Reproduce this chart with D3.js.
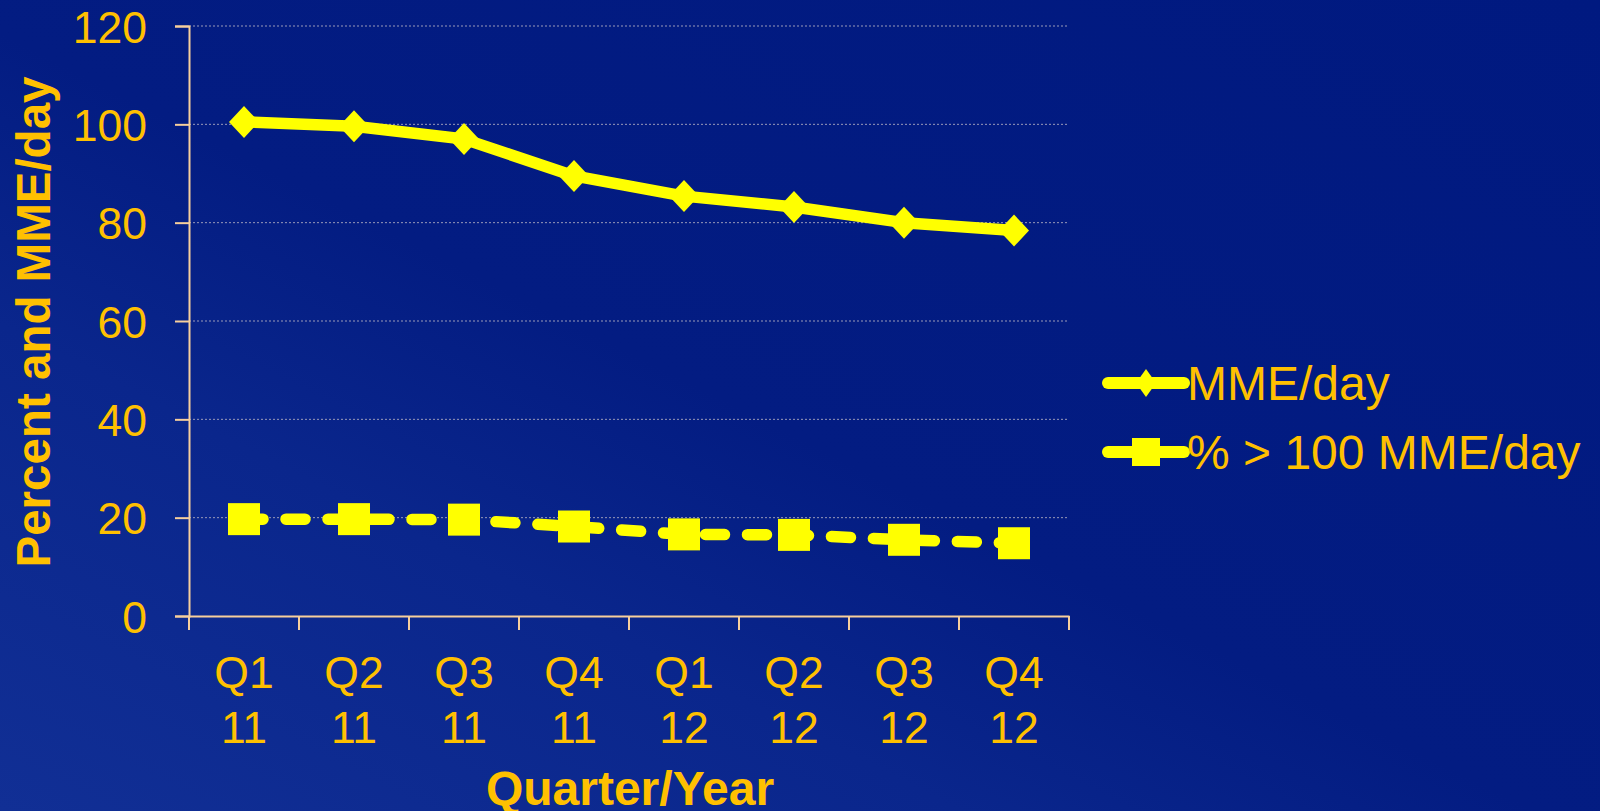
<!DOCTYPE html>
<html>
<head>
<meta charset="utf-8">
<script src="https://cdn.jsdelivr.net/npm/d3@7"></script>
<style>
  html, body { margin: 0; padding: 0; background: #001880; overflow: hidden; }
  svg { display: block; font-family: "Liberation Sans", Arial, sans-serif; }
</style>
</head>
<body>
<div id="chart"></div>
<script>
// Data
const quarters = ["Q1", "Q2", "Q3", "Q4", "Q1", "Q2", "Q3", "Q4"];
const years = ["11", "11", "11", "11", "12", "12", "12", "12"];
const categories = quarters.map((q, i) => q + " " + years[i]);
const mmePerDay = [100.5, 99.6, 97.0, 89.5, 85.4, 83.2, 80.0, 78.4];
const pctOver100 = [19.7, 19.7, 19.6, 18.2, 16.6, 16.5, 15.5, 14.8];
const yTicks = [0, 20, 40, 60, 80, 100, 120];
const seriesNames = ["MME/day", "% > 100 MME/day"];

const width = 1600;
const height = 811;
const marginTop = 26;
const marginLeft = 189;
const plotRight = 1069;
const plotBottom = 616;

const textColor = "#ffc000";
const lineColor = "#ffff00";
const axisColor = "#f7cf9c";

const x = d3.scaleBand()
    .domain(categories)
    .range([marginLeft, plotRight]);

const y = d3.scaleLinear()
    .domain([0, 120])
    .range([plotBottom, marginTop]);

const cx = c => x(c) + x.bandwidth() / 2;

const svg = d3.create("svg")
    .attr("width", width)
    .attr("height", height);

// background
const defs = svg.append("defs");
const grad = defs.append("linearGradient")
    .attr("id", "bg")
    .attr("x1", "0").attr("y1", "1")
    .attr("x2", "1").attr("y2", "0");
grad.append("stop").attr("offset", "0%").attr("stop-color", "#112f95");
grad.append("stop").attr("offset", "30%").attr("stop-color", "#0a268c");
grad.append("stop").attr("offset", "48%").attr("stop-color", "#031c82");
grad.append("stop").attr("offset", "100%").attr("stop-color", "#001980");

svg.append("rect")
    .attr("width", width)
    .attr("height", height)
    .attr("fill", "url(#bg)");

// gridlines
svg.append("g")
  .selectAll("line")
  .data(yTicks.filter(d => d > 0))
  .join("line")
    .attr("x1", marginLeft)
    .attr("x2", plotRight)
    .attr("y1", d => y(d))
    .attr("y2", d => y(d))
    .attr("stroke", "#9a9ab8")
    .attr("stroke-width", 1)
    .attr("stroke-dasharray", "2,2");

// y axis
svg.append("g")
    .attr("transform", `translate(${marginLeft},0)`)
    .call(d3.axisLeft(y).tickValues(yTicks).tickSize(14).tickPadding(28))
    .call(g => g.select(".domain").attr("stroke", axisColor).attr("stroke-width", 2))
    .call(g => g.selectAll(".tick line").attr("stroke", axisColor).attr("stroke-width", 2))
    .call(g => g.selectAll(".tick text")
        .attr("fill", textColor)
        .attr("font-size", 44.5)
        .attr("dy", "0.36em"));

// x axis
svg.append("g")
    .attr("transform", `translate(0,${plotBottom})`)
    .call(d3.axisBottom(x).tickSize(0).tickSizeOuter(0))
    .call(g => g.select(".domain").attr("stroke", axisColor).attr("stroke-width", 2))
    .call(g => g.selectAll(".tick text").remove())
    .call(g => g.selectAll(".tick").append("text")
        .attr("fill", textColor)
        .attr("font-size", 44.5)
        .attr("text-anchor", "middle")
        .attr("y", 72)
        .call(t => t.append("tspan").attr("x", 0).text((d, i) => quarters[i]))
        .call(t => t.append("tspan").attr("x", 0).attr("dy", 55).text((d, i) => years[i])));

// boundary ticks on x axis
svg.append("g")
  .selectAll("line")
  .data(categories.map(c => x(c)).concat([plotRight]))
  .join("line")
    .attr("x1", d => d)
    .attr("x2", d => d)
    .attr("y1", plotBottom)
    .attr("y2", plotBottom + 14)
    .attr("stroke", axisColor)
    .attr("stroke-width", 2);

// axis titles
svg.append("text")
    .attr("x", 630)
    .attr("y", 805)
    .attr("text-anchor", "middle")
    .attr("font-size", 48)
    .attr("font-weight", "bold")
    .attr("fill", textColor)
    .text("Quarter/Year");

svg.append("text")
    .attr("transform", "translate(50,322) rotate(-90)")
    .attr("text-anchor", "middle")
    .attr("font-size", 47.5)
    .attr("font-weight", "bold")
    .attr("fill", textColor)
    .text("Percent and MME/day");

// lines
const line = d3.line()
    .x((d, i) => cx(categories[i]))
    .y(d => y(d));

svg.append("path")
    .attr("d", line(mmePerDay))
    .attr("fill", "none")
    .attr("stroke", lineColor)
    .attr("stroke-width", 11.5)
    .attr("stroke-linejoin", "round");

svg.append("path")
    .attr("d", line(pctOver100))
    .attr("fill", "none")
    .attr("stroke", lineColor)
    .attr("stroke-width", 11.5)
    .attr("stroke-linecap", "round")
    .attr("stroke-dasharray", "19,23");

// markers
const diamond = "M0,-16L15,0L0,16L-15,0Z";

svg.append("g")
  .selectAll("path")
  .data(mmePerDay)
  .join("path")
    .attr("transform", (d, i) => `translate(${cx(categories[i])},${y(d)})`)
    .attr("d", diamond)
    .attr("fill", lineColor);

svg.append("g")
  .selectAll("rect")
  .data(pctOver100)
  .join("rect")
    .attr("x", (d, i) => cx(categories[i]) - 16)
    .attr("y", d => y(d) - 16)
    .attr("width", 32)
    .attr("height", 32)
    .attr("fill", lineColor);

// legend
const legend = svg.append("g")
  .selectAll("g")
  .data(seriesNames)
  .join("g")
    .attr("transform", (d, i) => `translate(1108,${383 + i * 69})`);

legend.append("line")
    .attr("x1", 0)
    .attr("x2", 76)
    .attr("stroke", lineColor)
    .attr("stroke-width", 12)
    .attr("stroke-linecap", "round");

legend.filter((d, i) => i === 0).append("path")
    .attr("transform", "translate(38,0)")
    .attr("d", "M0,-14L10,0L0,14L-10,0Z")
    .attr("fill", lineColor);

legend.filter((d, i) => i === 1).append("rect")
    .attr("x", 24)
    .attr("y", -14)
    .attr("width", 28)
    .attr("height", 28)
    .attr("fill", lineColor);

legend.append("text")
    .attr("x", 79)
    .attr("dy", "0.36em")
    .attr("font-size", 48)
    .attr("fill", textColor)
    .text(d => d);

d3.select("#chart").append(() => svg.node());
</script>
</body>
</html>
